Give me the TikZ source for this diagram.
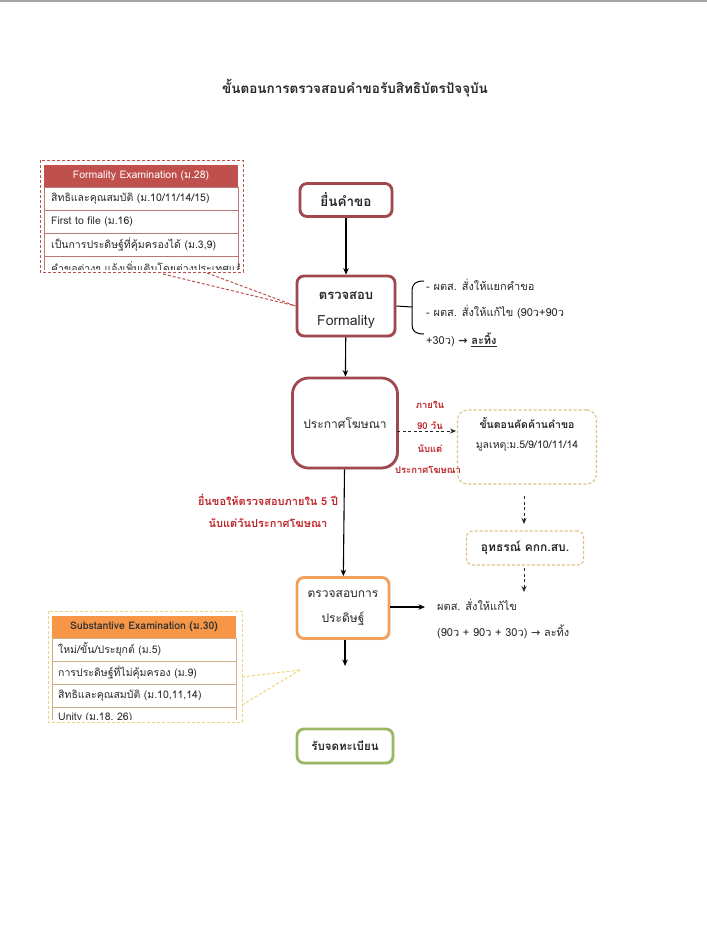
\documentclass[tikz,border=0pt]{standalone}
\usepackage{fontspec}
\setmainfont[Script=Thai]{Loma}
\newfontfamily\dvfont{DejaVu Sans}
\usetikzlibrary{shadows,arrows.meta}
\definecolor{boxred}{RGB}{160,72,78}
\definecolor{txtred}{RGB}{190,35,40}
\definecolor{hdrred}{RGB}{192,80,77}
\definecolor{boxorange}{RGB}{240,160,90}
\definecolor{hdrorange}{RGB}{247,150,70}
\definecolor{boxgreen}{RGB}{155,182,100}
\definecolor{dashtan}{RGB}{222,192,135}
\definecolor{dashyel}{RGB}{238,212,120}
\definecolor{rowred}{RGB}{185,120,120}
\definecolor{rowtan}{RGB}{205,175,135}
\definecolor{txtdark}{RGB}{40,40,40}
\begin{document}
\begin{tikzpicture}[x=1pt,y=-1pt,
  flowbox/.style={draw=#1, line width=2.8pt, rounded corners=7pt, fill=white,
    inner sep=0pt, drop shadow={shadow xshift=1.5pt, shadow yshift=-1.5pt, opacity=0.2},
    font=\fontsize{12}{14}\selectfont, text=txtdark, align=center},
  dbox/.style={draw=dashtan, line width=1.1pt, dash pattern=on 3pt off 2pt,
    rounded corners=#1, fill=white, inner sep=0pt, text=txtdark, align=center},
  arr/.style={-{Stealth[length=6.5pt,width=5.5pt]}, line width=1.1pt, draw=black},
  darr/.style={-{Stealth[length=6pt,width=5pt]}, line width=0.8pt, draw=black!85, dash pattern=on 3pt off 2.5pt},
  txt/.style={font=\fontsize{11}{13}\selectfont, text=txtdark, inner sep=0pt},
  redlbl/.style={font=\bfseries\fontsize{9.5}{11}\selectfont, text=txtred, inner sep=0pt},
  rowtxt/.style={font=\fontsize{10.5}{12}\selectfont, text=txtdark, inner sep=0pt, anchor=west},
  rowr/.style={draw=rowred, line width=0.6pt, fill=white},
  rowt/.style={draw=rowtan, line width=0.6pt, fill=white}
]
\useasboundingbox (0,0) rectangle (707,943);
\fill[white] (-3,-3) rectangle (710,946);
\draw[line width=2pt, draw=black!35] (-3,1) -- (710,1);

% title
\node[font=\bfseries\fontsize{13.5}{16}\selectfont, text=txtdark] (title) at (355,88) {ขั้นตอนการตรวจสอบคำขอรับสิทธิบัตรปัจจุบัน};

% main flow boxes
\node[flowbox=boxred, minimum width=92, minimum height=33, font=\bfseries\fontsize{13.5}{15}\selectfont] (n1) at (346,200) {ยื่นคำขอ};
\node[flowbox=boxred, minimum width=98, minimum height=60] (n2) at (346,306) {};
\begin{scope}
  \clip (299,279) rectangle (393,332);
  \node[font=\bfseries\fontsize{13}{15}\selectfont, text=txtdark] (n2a) at (346,296) {ตรวจสอบ};
  \node[font=\fontsize{14}{16}\selectfont, text=txtdark] (n2b) at (346,322) {Formality};
\end{scope}
\node[flowbox=boxred, minimum width=105, minimum height=90, rounded corners=16pt, font=\fontsize{12}{14}\selectfont] (n3) at (345,423) {ประกาศโฆษณา};
\node[flowbox=boxorange, minimum width=92, minimum height=61, font=\fontsize{12}{25}\selectfont] (n4) at (343,608) {ตรวจสอบการ\\ประดิษฐ์};
\node[flowbox=boxgreen, minimum width=96, minimum height=34, font=\bfseries\fontsize{11.5}{14}\selectfont] (n5) at (345,746) {รับจดทะเบียน};

% main arrows
\draw[arr] (n1) -- (n2);
\draw[arr] (n2) -- (n3);
\draw[arr] (n3) -- (n4);
\coordinate (n4end) at (345,666);
\draw[arr] (n4.south -| n4end) -- (n4end);

% brace and formality outcomes
\coordinate (br) at (412,307);
\draw[line width=1pt] (n2.east) -- (br);
\draw[line width=1pt] (424,281) .. controls (415,281) and (412,284) .. (412,292) -- (412,324) .. controls (412,331) and (415,334) .. (424,334);
\node[txt, anchor=west] (f1) at (426,285) {- ผตส. สั่งให้แยกคำขอ};
\node[txt, anchor=west] (f2) at (426,312) {- ผตส. สั่งให้แก้ไข (90ว+90ว};
\node[txt, anchor=west] (f3) at (426,340) {+30ว) {\dvfont\bfseries →} \textbf{\underline{ละทิ้ง}}};

% opposition
\node[dbox=10pt, minimum width=139, minimum height=74] (opp) at (527,447) {};
\node[font=\bfseries\fontsize{10.5}{12}\selectfont, text=txtdark] (oppa) at (527,423) {ขั้นตอนคัดค้านคำขอ};
\node[font=\fontsize{10.5}{12}\selectfont, text=txtdark] (oppb) at (527,446) {มูลเหตุ:ม.5/9/10/11/14};
\coordinate (d1) at (397,431);
\coordinate (d2) at (456,431);
\draw[darr] (d1) -- (d2);
\node[redlbl] (r1) at (430,405) {ภายใน};
\node[redlbl] (r2) at (430,426) {90 วัน};
\node[redlbl] (r3) at (430,449) {นับแต่};
\node[redlbl] (r4) at (428,470) {ประกาศโฆษณา};

\node[dbox=6pt, minimum width=117, minimum height=34, font=\bfseries\fontsize{12}{14}\selectfont] (app) at (525,548) {อุทธรณ์ คกก.สบ.};
\coordinate (e1) at (524,496);
\coordinate (e2) at (524,524);
\coordinate (e3) at (524,568);
\coordinate (e4) at (524,592);
\draw[darr] (e1) -- (e2);
\draw[darr] (e3) -- (e4);

% 5 years label
\node[font=\bfseries\fontsize{11}{13}\selectfont, text=txtred] (y5a) at (268,500) {ยื่นขอให้ตรวจสอบภายใน 5 ปี};
\node[font=\bfseries\fontsize{11}{13}\selectfont, text=txtred] (y5b) at (268,523) {นับแต่วันประกาศโฆษณา};

% substantive outcomes
\coordinate (s1) at (425,607);
\draw[arr] (n4.east |- s1) -- (s1);
\node[txt, anchor=west] (g1) at (437,605) {ผตส. สั่งให้แก้ไข};
\node[txt, anchor=west] (g2) at (437,632) {(90ว + 90ว + 30ว) {\dvfont →} ละทิ้ง};

% formality table
\draw[draw=hdrred, line width=1pt, dash pattern=on 3pt off 2pt] (40,160) rectangle (243,272);
\fill[hdrred] (44,165) rectangle (238,187);
\node[font=\fontsize{10.5}{12}\selectfont, text=white] (fh) at (141,176) {Formality Examination (ม.28)};
\begin{scope}
  \clip (43,164) rectangle (239,269);
  \draw[rowr] (44,187) rectangle (238,210);
  \node[rowtxt] (fr1) at (51,198.5) {สิทธิและคุณสมบัติ (ม.10/11/14/15)};
  \draw[rowr] (44,210) rectangle (238,233);
  \node[rowtxt] (fr2) at (51,221.5) {First to file (ม.16)};
  \draw[rowr] (44,233) rectangle (238,256);
  \node[rowtxt] (fr3) at (51,244.5) {เป็นการประดิษฐ์ที่คุ้มครองได้ (ม.3,9)};
  \draw[rowr] (44,256) rectangle (238,279);
  \node[rowtxt] (fr4) at (51,268) {คำขอต่างๆ แจ้งเพิ่มเติมโดยต่างประเทศแล้ว (ม.17)};
\end{scope}
\coordinate (fa) at (163,274);
\coordinate (fb) at (207,273);
\draw[draw=hdrred, line width=1pt, dash pattern=on 3pt off 2pt] (fa) -- (n2.west);
\draw[draw=hdrred, line width=1pt, dash pattern=on 3pt off 2pt] (fb) -- (n2.west);

% substantive table
\draw[draw=dashyel, line width=1pt, dash pattern=on 3pt off 2pt] (48,611) rectangle (242,722);
\fill[hdrorange] (52,616) rectangle (236,638);
\node[font=\bfseries\fontsize{10.5}{12}\selectfont, text=black!80] (sh) at (144,627) {Substantive Examination (ม.30)};
\begin{scope}
  \clip (51,615) rectangle (237,719);
  \draw[rowt] (52,638) rectangle (236,661);
  \node[rowtxt] (sr1) at (58,649.5) {ใหม่/ขั้น/ประยุกต์ (ม.5)};
  \draw[rowt] (52,661) rectangle (236,684);
  \node[rowtxt] (sr2) at (58,672.5) {การประดิษฐ์ที่ไม่คุ้มครอง (ม.9)};
  \draw[rowt] (52,684) rectangle (236,707);
  \node[rowtxt] (sr3) at (58,695.5) {สิทธิและคุณสมบัติ (ม.10,11,14)};
  \draw[rowt] (52,707) rectangle (236,730);
  \node[rowtxt] (sr4) at (58,718) {Unity (ม.18, 26)};
\end{scope}
\coordinate (sa) at (242,677);
\coordinate (sb) at (242,705);
\coordinate (sc) at (300,670);
\draw[draw=dashyel, line width=1pt, dash pattern=on 3pt off 2pt] (sa) -- (sc);
\draw[draw=dashyel, line width=1pt, dash pattern=on 3pt off 2pt] (sb) -- (sc);
\end{tikzpicture}
\end{document}
